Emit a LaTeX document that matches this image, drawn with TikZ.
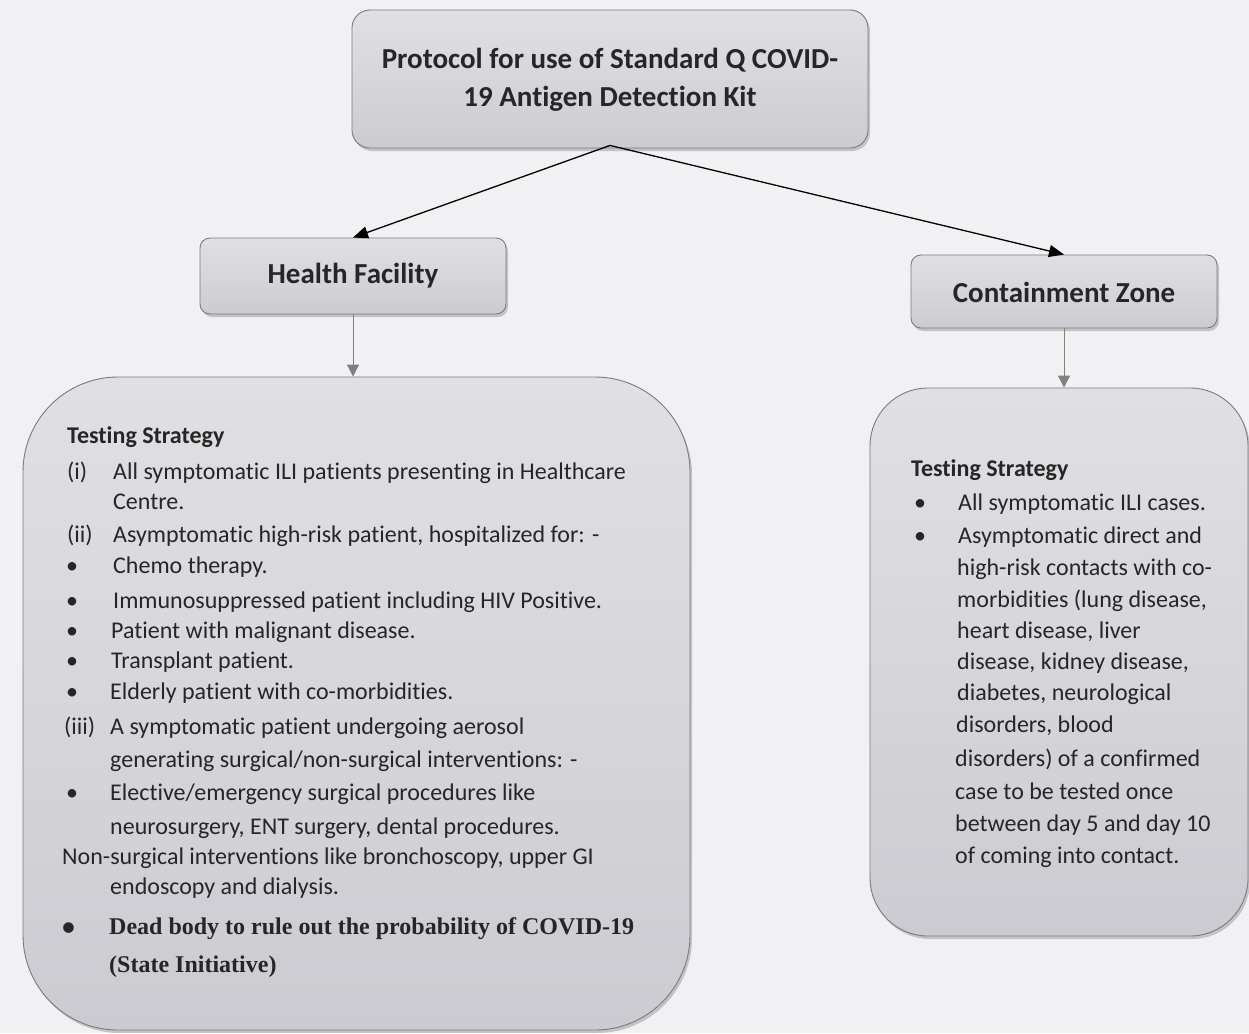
\documentclass[tikz,border=0pt]{standalone}
\usepackage{fontspec}
\setmainfont{Carlito}[Ligatures=NoCommon]
\newfontfamily\timesfam{Liberation Serif}
\usetikzlibrary{shadows,arrows.meta}
\definecolor{bg}{HTML}{F1F1F4}
\definecolor{boxtop}{HTML}{E0E0E4}
\definecolor{boxbot}{HTML}{CBCBD1}
\definecolor{boxline}{HTML}{7A7A80}
\definecolor{txt}{HTML}{262626}
\definecolor{garrow}{HTML}{808080}
\newcommand\bodyfs{\fontsize{24}{29}\selectfont}
\newcommand\headfs{\fontsize{29}{38}\selectfont}
\tikzset{
  gbox/.style={draw=boxline, line width=0.9pt, top color=boxtop, bottom color=boxbot,
    inner sep=0pt, drop shadow={shadow xshift=2pt, shadow yshift=-3pt, fill=black!45, opacity=0.45}},
  headtxt/.style={font=\headfs\bfseries, text=txt, align=center},
  ln/.style={anchor=base west, inner sep=0pt, font=\bodyfs, text=txt},
  dln/.style={anchor=base west, inner sep=0pt, font=\timesfam\bfseries\fontsize{24}{29}\selectfont, text=txt},
  blk/.style={draw=black, line width=1.3pt, -{Triangle[length=15pt,width=12pt]}},
  gry/.style={draw=garrow, line width=1pt, -{Triangle[length=12pt,width=12pt]}}
}
\begin{document}
\begin{tikzpicture}[x=1pt,y=-1pt]
\useasboundingbox (0,0) rectangle (1249,1033);
\fill[bg] (0,0) rectangle (1249,1033);

% boxes
\node[gbox, minimum width=516pt, minimum height=138pt, rounded corners=18pt] (top) at (610,79) {};
\node[headtxt] (toptxt) at (610,80) {Protocol for use of Standard Q COVID-\\19 Antigen Detection Kit};

\node[gbox, minimum width=306pt, minimum height=76pt, rounded corners=10pt] (hf) at (353,276) {};
\node[headtxt] (hftxt) at (353,276) {Health Facility};

\node[gbox, minimum width=306pt, minimum height=73pt, rounded corners=10pt] (cz) at (1064,291.5) {};
\node[headtxt] (cztxt) at (1064,292) {Containment Zone};

\node[gbox, minimum width=667pt, minimum height=653pt, rounded corners=95pt] (lb) at (356.5,703.5) {};
\node[gbox, minimum width=378pt, minimum height=548pt, rounded corners=58pt] (rb) at (1059,662) {};

% connectors
\draw[blk] ([yshift=3pt]top.south) -- (hf.north);
\draw[blk] ([yshift=3pt]top.south) -- (cz.north);
\draw[gry] (hf.south) -- (hf.south |- lb.north);
\draw[gry] (cz.south) -- (cz.south |- rb.north);

% left box text
\node[ln, font=\bodyfs\bfseries] (l0) at (67,443) {Testing Strategy};
\node[ln] (l1a) at (67,479) {(i)};
\node[ln] (l1) at (113,479) {All symptomatic ILI patients presenting in Healthcare};
\node[ln] (l2) at (113,509) {Centre.};
\node[ln] (l3a) at (67,542) {(ii)};
\node[ln] (l3) at (113,542) {Asymptomatic high-risk patient, hospitalized for: -};
\node[ln] (l4a) at (66,573) {\textbullet};
\node[ln] (l4) at (113,573) {Chemo therapy.};
\node[ln] (l5a) at (66,608) {\textbullet};
\node[ln] (l5) at (113,608) {Immunosuppressed patient including HIV Positive.};
\node[ln] (l6a) at (66,638) {\textbullet};
\node[ln] (l6) at (111,638) {Patient with malignant disease.};
\node[ln] (l7a) at (66,668) {\textbullet};
\node[ln] (l7) at (111,668) {Transplant patient.};
\node[ln] (l8a) at (66,699) {\textbullet};
\node[ln] (l8) at (110,699) {Elderly patient with co-morbidities.};
\node[ln] (l9a) at (64,734) {(iii)};
\node[ln] (l9) at (110,734) {A symptomatic patient undergoing aerosol};
\node[ln] (l10) at (110,767) {generating surgical/non-surgical interventions: -};
\node[ln] (l11a) at (66,800) {\textbullet};
\node[ln] (l11) at (110,800) {Elective/emergency surgical procedures like};
\node[ln] (l12) at (110,834) {neurosurgery, ENT surgery, dental procedures.};
\node[ln] (l13) at (62,864) {Non-surgical interventions like bronchoscopy, upper GI};
\node[ln] (l14) at (110,894) {endoscopy and dialysis.};
\node[ln, font=\fontsize{30}{30}\selectfont] (l15a) at (61,936) {\textbullet};
\node[dln] (l15) at (109,934) {Dead body to rule out the probability of COVID-19};
\node[dln] (l16) at (109,972) {(State Initiative)};

% right box text
\node[ln, font=\bodyfs\bfseries] (r0) at (911,476) {Testing Strategy};
\node[ln] (r1a) at (914,510) {\textbullet};
\node[ln] (r1) at (958,510) {All symptomatic ILI cases.};
\node[ln] (r2a) at (914,543) {\textbullet};
\node[ln] (r2) at (958,543) {Asymptomatic direct and};
\node[ln] (r3) at (957,575) {high-risk contacts with co-};
\node[ln] (r4) at (957,607) {morbidities (lung disease,};
\node[ln] (r5) at (957,638) {heart disease, liver};
\node[ln] (r6) at (957,669) {disease, kidney disease,};
\node[ln] (r7) at (957,700) {diabetes, neurological};
\node[ln] (r8) at (956,732) {disorders, blood};
\node[ln] (r9) at (955,766) {disorders) of a confirmed};
\node[ln] (r10) at (955,799) {case to be tested once};
\node[ln] (r11) at (955,831) {between day 5 and day 10};
\node[ln] (r12) at (955,863) {of coming into contact.};
\end{tikzpicture}
\end{document}
